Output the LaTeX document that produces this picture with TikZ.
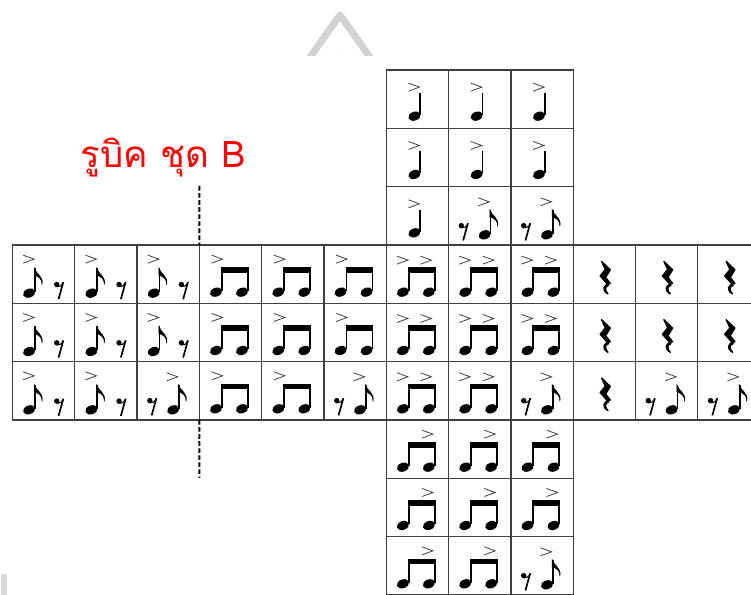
\documentclass[tikz,border=0pt]{standalone}
\usepackage{fontspec}
\newfontfamily\thaifont[Script=Thai]{Loma}
\usetikzlibrary{positioning}
\tikzset{
  stem/.style={line width=1.3pt},
  acc/.pic={\draw[black!75, line width=0.6pt] (-5.5,4) -- (5.5,0) -- (-5.5,-4);},
  head/.pic={\fill[rotate=20] (0,0) ellipse (6.3 and 4.4);},
  qnote/.pic={\pic {head}; \draw[stem] (5.8,1) -- (5.8,23);},
  enote/.pic={\pic {head}; \draw[stem] (5.8,1) -- (5.8,25);
    \filldraw[line width=0.4pt] (5.2,25) .. controls (6.7,19) and (14.8,17) .. (12.8,8.5) .. controls (13.3,14) and (9.8,16.5) .. (5.2,18) -- cycle;},
  erest/.pic={\fill (-2.4,5.2) circle (2.7);
    \draw[line width=0.8pt] (-2.6,3) .. controls (0,2.2) and (2.8,4.2) .. (4.2,7.4);
    \draw[line width=1.25pt] (4.2,7.6) -- (-0.6,-9.6);},
  qrest/.pic={\filldraw[line width=1pt, line join=round, xscale=1.45, yscale=1.1] (-2.6,14.8) -- (3.4,7.2) -- (0.2,0.2) -- (3.4,-5.2)
    .. controls (-1.8,-6.4) and (-2.6,-11.5) .. (1.8,-14.8)
    .. controls (-0.6,-11.5) and (-0.4,-8) .. (2.2,-7)
    -- (-3.6,1.6) -- (0,7.4) -- cycle;},
  bpair/.pic={\pic at (-14.5,-18) {head}; \pic at (11.5,-18) {head};
    \draw[stem] (-8.7,-17) -- (-8.7,7); \draw[stem] (17.3,-17) -- (17.3,7);
    \fill (-9.5,1.5) rectangle (18.1,7);},
  qa/.pic={\pic at (-3,-17) {qnote}; \pic at (-3.5,12) {acc};},
  er/.pic={\pic at (-15,15) {acc}; \pic at (-14.5,-19) {enote}; \pic at (15.5,-15.5) {erest};},
  re/.pic={\pic at (-16,-15) {erest}; \pic at (5,-19) {enote}; \pic at (4,14) {acc};},
  ba/.pic={\pic {bpair}; \pic at (-13.5,15) {acc};},
  bb/.pic={\pic {bpair}; \pic at (-15,14) {acc}; \pic at (8.5,14) {acc};},
  bc/.pic={\pic {bpair}; \pic at (10,15) {acc};},
  qr/.pic={\pic at (1,-3.5) {qrest};}
}
\newcommand{\cubeface}[3]{%
  \foreach \sym [count=\k from 0] in {#3} {%
    \pgfmathtruncatemacro{\fr}{#1+int(\k/3)}%
    \pgfmathtruncatemacro{\fc}{#2+mod(\k,3)}%
    \node[cell] (c-\fr-\fc) at ({12.5+62.3*(\fc+0.5)},{525-58.333*(\fr+0.5)}) {};
    \pic at (c-\fr-\fc.center) {\sym};
  }}

\begin{document}
\begin{tikzpicture}[x=0.75pt, y=0.75pt]
\tikzstyle{cell}=[draw=black!75, line width=1pt, minimum width=46.7pt, minimum height=43.75pt, inner sep=0pt, outer sep=0pt]
\tikzstyle{cut}=[line width=1.4pt, dash pattern=on 3.5pt off 1.8pt]
\tikzstyle{chev}=[draw=gray!35, line width=5.2pt, line join=round]
\useasboundingbox (0,0) rectangle (751,595);
\clip (0,0) rectangle (751,595);
\begin{scope}
\clip (0,539) rectangle (751,595);
\draw[chev] (308,535) -- (340,580) -- (372,535);
\fill[gray!30] (339,537) ellipse (4 and 2.5);
\end{scope}
\fill[gray!30] (1.5,0) rectangle (7,21);
\cubeface{0}{6}{qa,qa,qa,qa,qa,qa,qa,re,re}
\cubeface{3}{0}{er,er,er,er,er,er,er,er,re}
\cubeface{3}{3}{ba,ba,ba,ba,ba,ba,ba,ba,re}
\cubeface{3}{6}{bb,bb,bb,bb,bb,bb,bb,bb,re}
\cubeface{3}{9}{qr,qr,qr,qr,qr,qr,qr,re,re}
\cubeface{6}{6}{bc,bc,bc,bc,bc,bc,bc,bc,re}
\node[anchor=base, text=red, font=\thaifont\fontsize{27.5}{32}\selectfont] (title) at (163.5,427) {รูบิค ชุด B};
\coordinate (cutA) at (199.4,409);
\coordinate (cutB) at (199.4,117);
\draw[cut] (cutA) -- (c-3-3.north west);
\draw[cut] (c-5-3.south west) -- (cutB);
\end{tikzpicture}
\end{document}
